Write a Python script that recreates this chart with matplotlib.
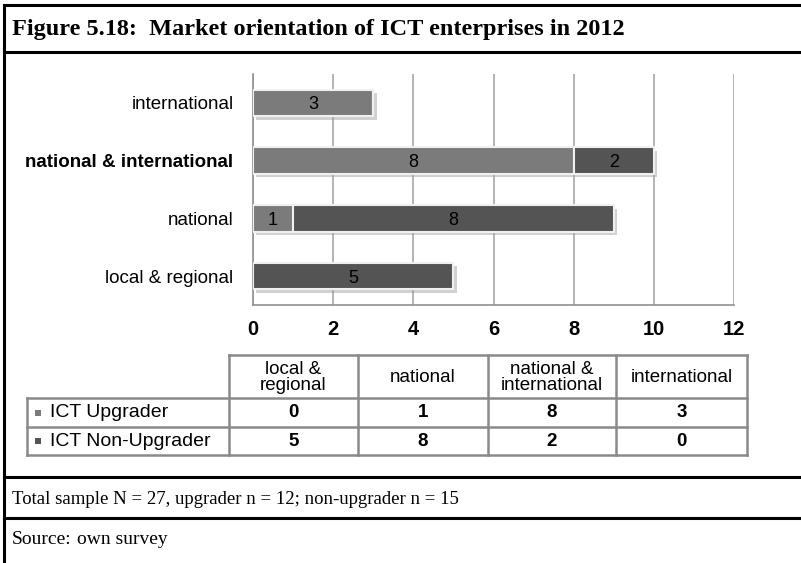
import matplotlib
matplotlib.use("Agg")
import matplotlib.pyplot as plt
import matplotlib.patheffects as pe
from matplotlib.lines import Line2D
from matplotlib.patches import Rectangle

categories = ["local & regional", "national", "national & international", "international"]
header_labels = ["local &\nregional", "national", "national &\ninternational", "international"]
upgrader = [0, 1, 8, 3]
non_upgrader = [5, 8, 2, 0]
series_names = ["ICT Upgrader", "ICT Non-Upgrader"]
xticks = [0, 2, 4, 6, 8, 10, 12]
title = "Figure 5.18:  Market orientation of ICT enterprises in 2012"
note = "Total sample N = 27, upgrader n = 12; non-upgrader n = 15"

W, H = 801, 563
c_up = "#7b7b7b"
c_non = "#545454"
sans = "Liberation Sans"
serif = "Liberation Serif"

fig = plt.figure(figsize=(W / 100, H / 100), dpi=100)

def fx(x):
    return x / W

def fy(y):
    return 1 - y / H

# axes in pixel coords
ax_l, ax_r, ax_t, ax_b = 253, 734, 74, 305
ax = fig.add_axes([fx(ax_l), fy(ax_b), (ax_r - ax_l) / W, (ax_b - ax_t) / H])

ypos = list(range(len(categories)))
shadow = [pe.SimplePatchShadow(offset=(2.5, -2.5), shadow_rgbFace="#9a9a9a", alpha=0.45), pe.Normal()]
b1 = ax.barh(ypos, upgrader, height=0.46, color=c_up, edgecolor="#f0f0f0", linewidth=1.5, zorder=3)
b2 = ax.barh(ypos, non_upgrader, left=upgrader, height=0.46, color=c_non, edgecolor="#f0f0f0",
             linewidth=1.5, zorder=3)
for bars in (b1, b2):
    for p in bars:
        p.set_path_effects(shadow)

for i in ypos:
    if upgrader[i] > 0:
        ax.text(upgrader[i] / 2, i, str(upgrader[i]), ha="center", va="center_baseline",
                fontsize=13, family=sans, color="black", zorder=5)
    if non_upgrader[i] > 0:
        ax.text(upgrader[i] + non_upgrader[i] / 2, i, str(non_upgrader[i]), ha="center",
                va="center_baseline", fontsize=13, family=sans, color="black", zorder=5)

ax.set_xlim(0, 12)
ax.set_ylim(-0.5, len(categories) - 0.5)
ax.set_xticks(xticks)
ax.set_xticklabels([str(t) for t in xticks], fontsize=14.5, family=sans, fontweight="bold")
ax.tick_params(axis="x", length=0, pad=11)
ax.set_yticks(ypos)
ax.set_yticklabels(categories, fontsize=13.5, family=sans)
for lbl in ax.get_yticklabels():
    if lbl.get_text() == "national & international":
        lbl.set_fontweight("bold")
ax.tick_params(axis="y", length=0, pad=14)
ax.grid(axis="x", color="#a8a8a8", linewidth=1.2, zorder=0)
ax.grid(axis="y", visible=False)
for s in ("top", "right"):
    ax.spines[s].set_visible(False)
for s in ("left", "bottom"):
    ax.spines[s].set_color("#909090")
    ax.spines[s].set_linewidth(1.2)
ax.set_facecolor("white")

# data table
tcol = [229, 358, 488, 616, 747]
trow = [355, 398, 427, 455]
lab_l = 27
gray = "#8a8a8a"
lw = 1.8

def hline(x0, x1, y, **kw):
    fig.add_artist(Line2D([fx(x0), fx(x1)], [fy(y), fy(y)], transform=fig.transFigure, **kw))

def vline(x, y0, y1, **kw):
    fig.add_artist(Line2D([fx(x), fx(x)], [fy(y0), fy(y1)], transform=fig.transFigure, **kw))

hline(tcol[0], tcol[-1], trow[0], color=gray, lw=lw)
for y in trow[1:]:
    hline(lab_l, tcol[-1], y, color=gray, lw=lw)
for x in tcol:
    vline(x, trow[0], trow[-1], color=gray, lw=lw)
vline(lab_l, trow[1], trow[-1], color=gray, lw=lw)

for j, hl in enumerate(header_labels):
    fig.text(fx((tcol[j] + tcol[j + 1]) / 2), fy((trow[0] + trow[1]) / 2 + 1), hl, ha="center", va="center",
             fontsize=13.5, family=sans, linespacing=0.9)

rows = [upgrader, non_upgrader]
cols = [c_up, c_non]
for r, (name, vals, col) in enumerate(zip(series_names, rows, cols)):
    yc = (trow[r + 1] + trow[r + 2]) / 2
    fig.add_artist(Rectangle((fx(35), fy(yc + 3)), 6 / W, 6 / H, transform=fig.transFigure,
                             facecolor=col, edgecolor="none"))
    fig.text(fx(50), fy(yc), name, ha="left", va="center", fontsize=14, family=sans)
    for j, v in enumerate(vals):
        fig.text(fx((tcol[j] + tcol[j + 1]) / 2), fy(yc), str(v), ha="center", va="center",
                 fontsize=13.5, family=sans, fontweight="bold")

# frame
flw = 2.2
hline(4, W + 5, 5, color="black", lw=flw)
vline(4, 5, H + 5, color="black", lw=flw)
hline(4, W + 5, 52, color="black", lw=flw)
hline(4, W + 5, 477, color="black", lw=flw)
hline(4, W + 5, 518, color="black", lw=flw)

fig.text(fx(12), fy(30), title, ha="left", va="center", fontsize=17.5, family=serif, fontweight="bold")
fig.text(fx(12), fy(499), note, ha="left", va="center", fontsize=13.5, family=serif)
fig.text(fx(12), fy(540), "Source:", ha="left", va="center", fontsize=14, family=serif)
fig.text(fx(77), fy(540), "own survey", ha="left", va="center", fontsize=14, family=serif)

fig.savefig("out.png", dpi=100, facecolor="white")
